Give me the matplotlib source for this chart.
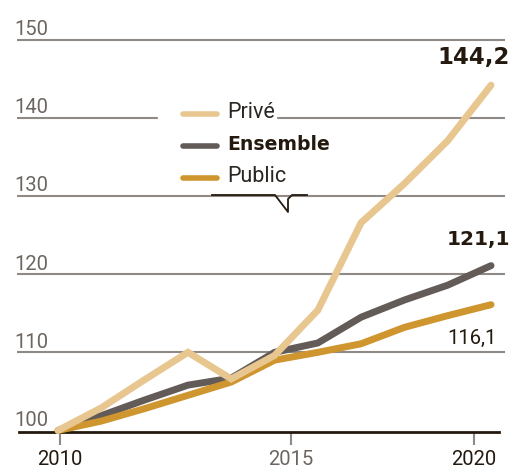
import matplotlib
matplotlib.use("Agg")
import matplotlib.pyplot as plt
from matplotlib.patches import Rectangle

# data
years = [2010, 2011, 2012, 2013, 2014, 2015, 2016, 2017, 2018, 2019, 2020]
prive = [100, 102.9, 106.5, 110.0, 106.6, 109.6, 115.4, 126.6, 131.6, 137.1, 144.2]
ensemble = [100, 101.9, 103.9, 105.8, 106.7, 110.0, 111.2, 114.5, 116.7, 118.6, 121.1]
public = [100, 101.2, 102.8, 104.5, 106.2, 109.0, 110.0, 111.1, 113.2, 114.7, 116.1]

y_grid = [110, 120, 130, 140, 150]
y_labels = ["100", "110", "120", "130", "140", "150"]
x_tick_pos = [2010.05, 2015.38, 2019.61]
x_tick_labels = ["2010", "2015", "2020"]

C_PRIVE = "#E8C690"
C_ENS = "#625B57"
C_PUB = "#CF952F"
C_GRID = "#8F8A85"
C_DARK = "#24190E"
C_TXT = "#6C6560"

plt.rcParams['font.family'] = ['Roboto', 'DejaVu Sans']
BOLD = ['DejaVu Sans']

fig = plt.figure(figsize=(5.14, 4.70), dpi=100)
ax = fig.add_axes([0, 0, 1, 1])
ax.set_xlim(2008.66, 2020.53)
ax.set_ylim(94.94, 155.1)
for s in ["left", "right", "top"]:
    ax.spines[s].set_visible(False)
ax.set_yticks([])

# Grid
ax.hlines(y_grid, 2009.05, 2020.32, color=C_GRID, lw=1.5, zorder=1)

# Bottom axis line at 100
ax.spines["bottom"].set_position(("data", 99.8))
ax.spines["bottom"].set_bounds(2009.1, 2020.18)
ax.spines["bottom"].set_color(C_DARK)
ax.spines["bottom"].set_linewidth(2)
ax.spines["bottom"].set_zorder(2)
ax.set_xticks(x_tick_pos)
ax.set_xticklabels(x_tick_labels, fontsize=14.5)
ax.tick_params(axis="x", length=9, width=1.5, color=C_GRID, pad=4)
for lbl, c in zip(ax.get_xticklabels(), [C_DARK, C_TXT, C_DARK]):
    lbl.set_color(c)

# Y labels
for i, t in enumerate(y_labels):
    ax.text(2009.0, 100 + 10 * i + 0.6, t, fontsize=14.5, color=C_TXT,
            ha="left", va="baseline", zorder=3)

# Lines
kw = dict(lw=5, solid_capstyle="round", solid_joinstyle="miter")
ax.plot(years, ensemble, color=C_ENS, zorder=4, **kw)
ax.plot(years, public, color=C_PUB, zorder=5, **kw)
ax.plot(years, prive, color=C_PRIVE, zorder=6, **kw)

# End labels
ax.text(2020.44, prive[-1] + 3.6, "144,2", fontsize=16.5, fontweight="bold",
        family=BOLD, color=C_DARK, ha="right", va="center")
ax.text(2020.44, ensemble[-1] + 3.3, "121,1", fontsize=14.5, fontweight="bold",
        family=BOLD, color=C_DARK, ha="right", va="center")
ax.text(2020.14, public[-1] - 4.3, "116,1", fontsize=14.5,
        color=C_DARK, ha="right", va="center")

# Legend (manual)
ax.add_patch(Rectangle((0.307, 0.736), 0.23, 0.038, transform=ax.transAxes,
                       color="white", zorder=2))
leg = [("Privé", C_PRIVE, "normal", 0.7574),
       ("Ensemble", C_ENS, "bold", 0.6894),
       ("Public", C_PUB, "normal", 0.6213)]
for name, col, w, yy in leg:
    ax.plot([0.356, 0.422], [yy, yy], transform=ax.transAxes, color=col,
            lw=4, solid_capstyle="round", zorder=3)
    if w == "bold":
        ax.text(0.4416, yy + 0.003, name, transform=ax.transAxes, fontsize=13.6,
                fontweight="bold", family=BOLD, color=C_DARK,
                ha="left", va="center", zorder=3)
    else:
        ax.text(0.4416, yy + 0.003, name, transform=ax.transAxes, fontsize=15.5,
                color="#2B2622", ha="left", va="center", zorder=3)

# small pointer decoration on the 130 line
px = [212, 275, 288, 288, 292, 307]
py = [195, 195, 212, 199, 195, 195]
ax.plot([p / 514 for p in px], [1 - p / 470 for p in py], transform=ax.transAxes,
        color=C_DARK, lw=1.3, zorder=3)

fig.savefig("out.png", dpi=100)
